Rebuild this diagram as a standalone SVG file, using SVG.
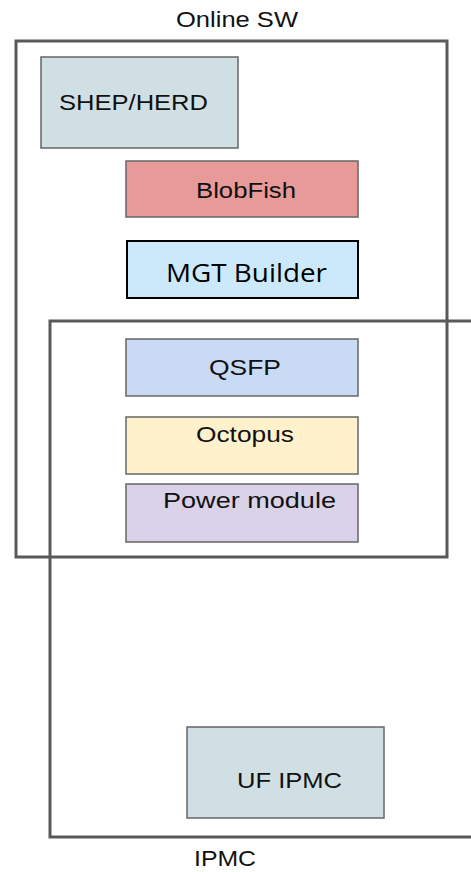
<svg xmlns="http://www.w3.org/2000/svg" width="471" height="872" viewBox="0 0 471 872">
<style>
.cont{fill:none;stroke:#595959;stroke-width:3}
.box{stroke:#666;stroke-width:1.5}
.t{font-family:"Liberation Sans",Arial,sans-serif;font-size:22px;fill:#111}
</style>
<rect width="471" height="872" fill="#fff"/>
<g id="online-sw">
<rect class="cont" x="16" y="41" width="431" height="516"/>
<text class="t" x="176" y="27" textLength="122" lengthAdjust="spacingAndGlyphs">Online SW</text>
</g>
<g id="ipmc">
<rect class="cont" x="50" y="321" width="440" height="516"/>
<text class="t" x="194" y="866" font-size="21" textLength="62" lengthAdjust="spacingAndGlyphs">IPMC</text>
</g>
<g id="shep-herd">
<rect class="box" x="41" y="57" width="197" height="91" fill="#d0dfe3"/>
<text class="t" x="59" y="110" textLength="149" lengthAdjust="spacingAndGlyphs">SHEP/HERD</text>
</g>
<g id="blobfish">
<rect class="box" x="126" y="161" width="232" height="56" fill="#e89a99"/>
<text class="t" x="196" y="198" textLength="100" lengthAdjust="spacingAndGlyphs">BlobFish</text>
</g>
<g id="mgt-builder">
<rect x="127" y="241" width="231" height="57" fill="#cce9fb" stroke="#000" stroke-width="2"/>
<text x="166" y="282" textLength="161" lengthAdjust="spacingAndGlyphs" font-family="'Open Sans','Noto Sans',sans-serif" font-size="26" fill="#000">MGT Builder</text>
</g>
<g id="qsfp">
<rect class="box" x="126" y="339" width="232" height="57" fill="#c9daf5"/>
<text class="t" x="209" y="375" textLength="72" lengthAdjust="spacingAndGlyphs">QSFP</text>
</g>
<g id="octopus">
<rect class="box" x="126" y="417" width="232" height="57" fill="#fff1cc"/>
<text class="t" x="196" y="442" textLength="98" lengthAdjust="spacingAndGlyphs">Octopus</text>
</g>
<g id="power-module">
<rect class="box" x="126" y="484" width="232" height="58" fill="#d9d2e9"/>
<text class="t" x="163" y="508" textLength="173" lengthAdjust="spacingAndGlyphs">Power module</text>
</g>
<g id="uf-ipmc">
<rect class="box" x="187" y="727" width="197" height="91" fill="#d0dfe3"/>
<text class="t" x="237" y="788" textLength="105" lengthAdjust="spacingAndGlyphs">UF IPMC</text>
</g>
<g id="connectors"/>
</svg>
